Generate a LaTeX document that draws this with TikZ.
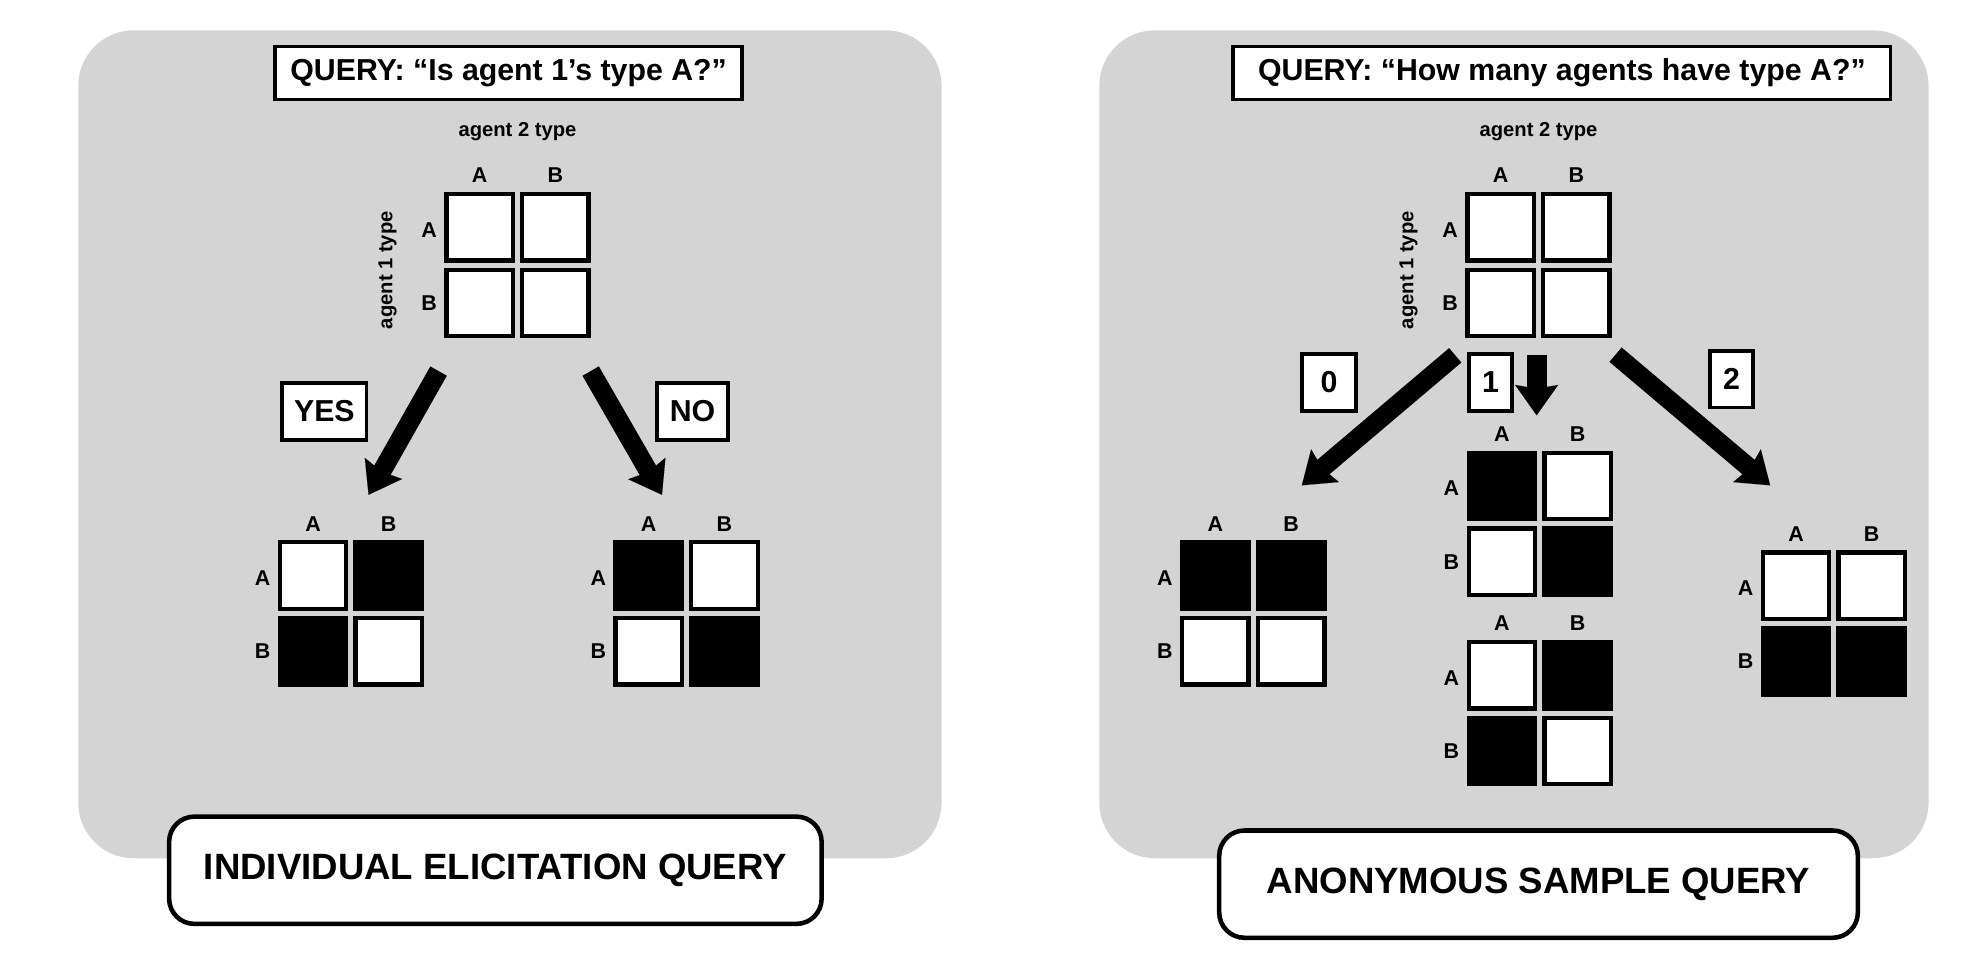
\documentclass[tikz,border=0pt]{standalone}
\usepackage{fontspec}
\setmainfont{Liberation Sans}
\usetikzlibrary{arrows.meta}
\definecolor{panelgray}{RGB}{212,212,212}
\tikzset{
  panel/.style={fill=panelgray, rounded corners=22pt},
  cellbox/.style={draw=black, line width=1.7pt, minimum size=26.3pt, inner sep=0pt},
  lab/.style={font=\bfseries\fontsize{8.5}{10}\selectfont, inner sep=0pt},
  axislab/.style={font=\bfseries\fontsize{8}{10}\selectfont, inner sep=0pt},
  qbox/.style={draw=black, line width=1.4pt, fill=white, minimum height=21pt, inner sep=0pt, font=\bfseries\fontsize{12}{14}\selectfont},
  tagbox/.style={draw=black, line width=1.4pt, fill=white, minimum height=22.5pt, inner sep=0pt, font=\bfseries\fontsize{12}{14}\selectfont},
  titlebox/.style={draw=black, line width=1.8pt, fill=white, rounded corners=10pt, minimum height=42.5pt, inner sep=0pt, font=\bfseries\fontsize{14.5}{16}\selectfont},
  bigarrow/.style={line width=7.5pt, -{Stealth[width=17pt,length=12pt,inset=1.5pt,line width=0.01pt]}},
}
\newcommand{\mygrid}[7]{%
  \node[cellbox, fill=#4] (#1-AA) at (#2,#3) {};
  \node[cellbox, fill=#5] (#1-AB) at (#2+60,#3) {};
  \node[cellbox, fill=#6] (#1-BA) at (#2,#3+60) {};
  \node[cellbox, fill=#7] (#1-BB) at (#2+60,#3+60) {};
  \node[lab] (#1-cA) at (#2,#3-41) {A};
  \node[lab] (#1-cB) at (#2+60,#3-41) {B};
  \node[lab] (#1-rA) at (#2-40,#3+2) {A};
  \node[lab] (#1-rB) at (#2-40,#3+60) {B};
}
\begin{document}
\begin{tikzpicture}[x=0.5pt,y=-0.5pt]
\useasboundingbox (0,0) rectangle (1568,756.7);
% panels
\fill[panel] (62,24) rectangle (746,680);
\fill[panel] (871,24) rectangle (1528,680);

% ---------- left panel ----------
\node[qbox, minimum width=185pt] (lq) at (403,58) {QUERY: “Is agent 1’s type A?”};
\node[axislab] (l2type) at (410,104) {agent 2 type};
\node[axislab, rotate=90] (l1type) at (307,214) {agent 1 type};
\mygrid{LT}{380}{180}{white}{white}{white}{white}
\mygrid{LY}{248}{456}{white}{black}{black}{white}
\mygrid{LN}{514}{456}{black}{white}{white}{black}

\coordinate (yesS) at (347.5,294);
\coordinate (yesE) at (292,392);
\coordinate (noS) at (468,294);
\coordinate (noE) at (524.5,392);
\draw[bigarrow] (yesS) -- (yesE);
\draw[bigarrow] (noS) -- (noE);
\node[tagbox, minimum width=33.5pt] (yes) at (257,326) {YES};
\node[tagbox, minimum width=28.2pt] (no) at (548.7,326) {NO};

\node[titlebox, minimum width=258.5pt] (ltitle) at (392.5,689.5) {INDIVIDUAL ELICITATION QUERY};

% ---------- right panel ----------
\node[qbox, minimum width=260.5pt] (rq) at (1237.5,58) {QUERY: “How many agents have type A?”};
\node[axislab] (r2type) at (1219,104) {agent 2 type};
\node[axislab, rotate=90] (r1type) at (1116,214) {agent 1 type};
\mygrid{RT}{1189}{180}{white}{white}{white}{white}
\mygrid{RZ}{963}{456}{black}{black}{white}{white}
\mygrid{ROa}{1190}{385}{black}{white}{white}{black}
\mygrid{ROb}{1190}{535}{white}{black}{black}{white}
\mygrid{RW}{1423}{464}{white}{white}{black}{black}

\coordinate (zeroS) at (1153,281.5);
\coordinate (zeroE) at (1031.5,384.5);
\coordinate (oneS) at (1217.5,281);
\coordinate (oneE) at (1217.5,329);
\coordinate (twoS) at (1280,281);
\coordinate (twoE) at (1402.5,384.5);
\draw[bigarrow] (zeroS) -- (zeroE);
\draw[bigarrow, line width=8pt] (oneS) -- (oneE);
\draw[bigarrow] (twoS) -- (twoE);
\node[tagbox, minimum width=21.5pt] (n0) at (1053,303) {0};
\node[tagbox, minimum width=17pt] (n1) at (1181,303) {1};
\node[tagbox, minimum width=17pt] (n2) at (1372,300.5) {2};

\node[titlebox, minimum width=253pt] (rtitle) at (1219,700.5) {ANONYMOUS SAMPLE QUERY};
\end{tikzpicture}
\end{document}
